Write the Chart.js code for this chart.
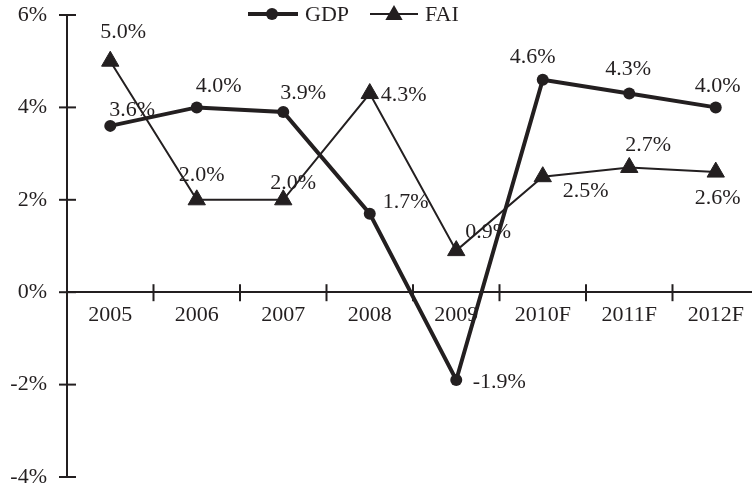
<!DOCTYPE html>
<html>
<head>
<meta charset="utf-8">
<script src="https://cdn.jsdelivr.net/npm/chart.js@4/dist/chart.umd.min.js"></script>
<style>
  html, body { margin: 0; padding: 0; background: #fff; overflow: hidden; }
  #wrap { position: relative; width: 770px; height: 492px; }
</style>
</head>
<body>
<div id="wrap"><canvas id="c" width="770" height="492"></canvas></div>
<script>
// Years on the category axis
const years = ['2005', '2006', '2007', '2008', '2009', '2010F', '2011F', '2012F'];
// Annual growth, percent
const gdp = [3.6, 4.0, 3.9, 1.7, -1.9, 4.6, 4.3, 4.0];
const fai = [5.0, 2.0, 2.0, 4.3, 0.9, 2.5, 2.7, 2.6];
// Value axis ticks, percent
const yTicks = [-4, -2, 0, 2, 4, 6];

// Where each value label sits relative to its point (px)
const gdpLabelShift = [[22, -16], [22, -21], [20, -19], [36, -11], [43, 2], [-10, -22], [-1, -24], [2, -21]];
const faiLabelShift = [[13, -29], [5, -25], [10, -17], [34, 2], [32, -18], [43, 15], [19, -22], [2, 26]];

const INK = '#231f20';
const FONT = '22px "Liberation Serif", "Times New Roman", serif';

const fmt = v => v.toFixed(1) + '%';

const decorations = {
  id: 'decorations',
  afterDraw(chart) {
    const ctx = chart.ctx;
    const xs = chart.scales.x, ys = chart.scales.y;
    const y0 = ys.getPixelForValue(0);
    ctx.save();
    ctx.strokeStyle = INK;
    ctx.lineWidth = 2;
    // tick marks crossing the value axis
    yTicks.forEach(t => {
      const py = ys.getPixelForValue(t);
      ctx.beginPath();
      ctx.moveTo(ys.right - 8, py);
      ctx.lineTo(ys.right + 9, py);
      ctx.stroke();
    });
    // tick marks between categories, crossing the zero line
    for (let i = 0; i < years.length; i++) {
      const px = (xs.getPixelForValue(i) + xs.getPixelForValue(i + 1)) / 2;
      ctx.beginPath();
      ctx.moveTo(px, y0 - 8);
      ctx.lineTo(px, y0 + 9);
      ctx.stroke();
    }

    // value labels
    ctx.font = FONT;
    ctx.fillStyle = INK;
    ctx.textAlign = 'center';
    ctx.textBaseline = 'middle';
    const drawLabels = (dsIndex, values, shifts) => {
      const meta = chart.getDatasetMeta(dsIndex);
      meta.data.forEach((pt, i) => {
        ctx.fillText(fmt(values[i]), pt.x + shifts[i][0], pt.y + shifts[i][1]);
      });
    };
    drawLabels(0, gdp, gdpLabelShift);
    drawLabels(1, fai, faiLabelShift);

    // legend
    const ly = 14;
    ctx.beginPath();
    ctx.lineWidth = 4;
    ctx.moveTo(248, ly); ctx.lineTo(298, ly); ctx.stroke();
    ctx.beginPath();
    ctx.arc(272, ly, 6, 0, Math.PI * 2);
    ctx.fill();
    ctx.textAlign = 'left';
    ctx.fillText('GDP', 305, ly + 1);

    ctx.beginPath();
    ctx.lineWidth = 2;
    ctx.moveTo(370, ly); ctx.lineTo(418, ly); ctx.stroke();
    const r = 10, cx = 394, cy = ly + 1;
    ctx.beginPath();
    ctx.moveTo(cx, cy - r);
    ctx.lineTo(cx + r * Math.sin(2 * Math.PI / 3), cy - r * Math.cos(2 * Math.PI / 3));
    ctx.lineTo(cx + r * Math.sin(4 * Math.PI / 3), cy - r * Math.cos(4 * Math.PI / 3));
    ctx.closePath();
    ctx.fill();
    ctx.fillText('FAI', 425, ly + 1);
    ctx.restore();
  }
};

new Chart(document.getElementById('c'), {
  type: 'line',
  data: {
    labels: years,
    datasets: [
      {
        label: 'GDP',
        data: gdp,
        borderColor: INK,
        backgroundColor: INK,
        borderWidth: 4,
        pointStyle: 'circle',
        pointRadius: 6,
        pointBorderWidth: 0,
        tension: 0
      },
      {
        label: 'FAI',
        data: fai,
        borderColor: INK,
        backgroundColor: INK,
        borderWidth: 2,
        pointStyle: 'triangle',
        pointRadius: 10,
        pointBorderWidth: 1,
        tension: 0
      }
    ]
  },
  options: {
    responsive: false,
    animation: false,
    devicePixelRatio: 1,
    layout: { padding: { top: 15, bottom: 15, left: 0, right: 3 } },
    plugins: { legend: { display: false }, tooltip: { enabled: false } },
    scales: {
      x: {
        position: { y: 0 },
        offset: true,
        afterFit(scale) { scale.paddingLeft = 0; scale.paddingRight = 0; },
        grid: { display: true, drawOnChartArea: false, drawTicks: false },
        border: { display: true, color: INK, width: 2 },
        ticks: { color: INK, font: { family: '"Liberation Serif", serif', size: 22 }, padding: 10, maxRotation: 0, autoSkip: false }
      },
      y: {
        min: -4,
        max: 6,
        afterFit(scale) { scale.width = 67; scale.paddingTop = 0; scale.paddingBottom = 0; },
        afterBuildTicks(scale) { scale.ticks = yTicks.map(v => ({ value: v })); },
        grid: { display: true, drawOnChartArea: false, drawTicks: false },
        border: { display: true, color: INK, width: 2 },
        ticks: {
          color: INK,
          padding: 20,
          font: { family: '"Liberation Serif", serif', size: 22 },
          callback: v => v + '%'
        }
      }
    }
  },
  plugins: [decorations]
});
</script>
</body>
</html>
